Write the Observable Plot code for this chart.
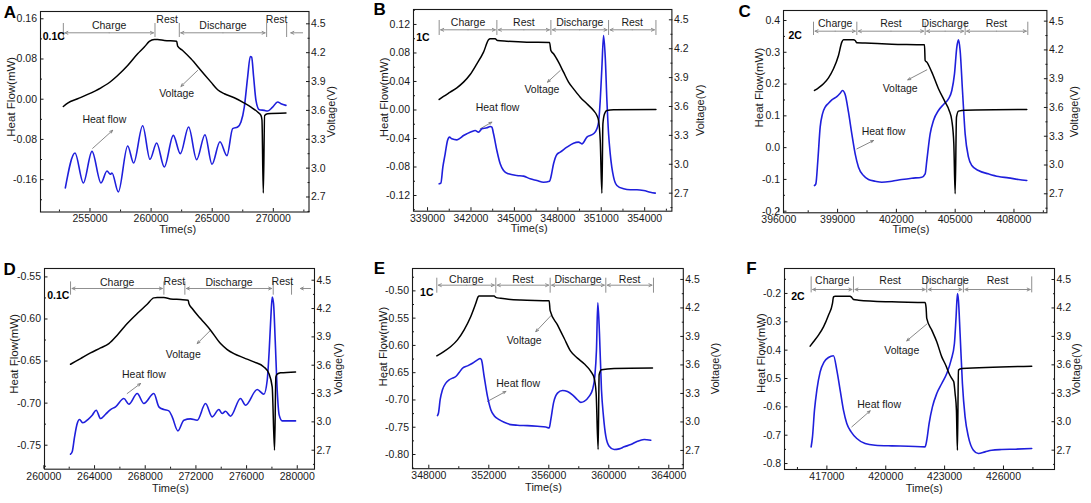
<!DOCTYPE html>
<html><head><meta charset="utf-8">
<script src="https://cdn.jsdelivr.net/npm/d3@7"></script>
<script src="https://cdn.jsdelivr.net/npm/@observablehq/plot@0.6"></script>
<style>
body{margin:0;background:#fff;}
#fig{position:relative;width:1091px;height:503px;overflow:hidden;background:#fff;}
.panel{position:absolute;}
.panel svg{position:absolute;left:0;top:0;overflow:visible;}
</style></head><body><div id="fig"></div>
<script>
// ---------------- DATA ----------------
const phaseNames = ["Charge", "Rest", "Discharge", "Rest"];
const annLabels = ["Voltage", "Heat flow"];
const voltTicks = [2.7, 3.0, 3.3, 3.6, 3.9, 4.2, 4.5];

// Panel A (0.1C)
const xTicksA = [255000, 260000, 265000, 270000];
const hTicksA = [-0.16, -0.08, 0.00, 0.08, 0.16];
const phaseA = [252818, 260318, 262308, 269453, 271090];
const tailA = [272398, 271308];
const tA_v = [252818,253173,253991,254809,255900,256445,257263,258082,258900,259445,259854,260263,260536,261081,262090,262172,262581,263263,264081,264900,265445,265990,266808,267627,268172,268717,268990,269072,269180,269290,269535,271035];
const vA = [3.641,3.676,3.721,3.766,3.835,3.877,3.963,4.067,4.188,4.258,4.317,4.337,4.337,4.327,4.320,4.268,4.223,4.136,4.015,3.894,3.815,3.773,3.731,3.676,3.634,3.583,3.548,3.50,2.741,3.548,3.565,3.572];
const tA_h = [252982,253773,254455,255164,255900,256391,256663,256800,257318,258082,258572,259309,259909,260454,261081,261818,262390,263072,263726,264408,264981,265635,266208,266672,267081,267354,267626,267899,268117,268226,268390,268580,268853,269262,269535,269944,270353,270626,271035];
const hA = [-0.1766,-0.1070,-0.1666,-0.1037,-0.1666,-0.1428,-0.1494,-0.1467,-0.1845,-0.0931,-0.1269,-0.0527,-0.1196,-0.0871,-0.1348,-0.0719,-0.1083,-0.0553,-0.1202,-0.0706,-0.1295,-0.0845,-0.1123,-0.0586,-0.0553,-0.0454,-0.0156,0.0441,0.0851,0.0838,0.0441,-0.0023,-0.0209,-0.0222,-0.0235,-0.0156,-0.0056,-0.0089,-0.0123];
const annA = [[262090,0.0109,263808,0.0573,262445,0.0255],[256173,-0.0407,255218,-0.0977,256854,-0.0619]];

// Panel B (1C)
const xTicksB = [339000, 342000, 345000, 348000, 351000, 354000];
const hTicksB = [-0.12, -0.08, -0.04, 0.00, 0.04, 0.08, 0.12];
const phaseB = [339804, 343789, 347521, 351506, 354777];
const tB_v = [339804,340103,340564,341025,341485,341946,342407,342868,343213,343328,343674,343835,344480,345862,347429,347521,347705,348051,348396,348742,349087,349548,350009,350470,350700,350815,350930,351045,351114,351230,351391,351852,354778];
const vB = [3.673,3.704,3.749,3.794,3.853,3.932,4.043,4.164,4.292,4.303,4.303,4.285,4.278,4.268,4.265,4.181,4.147,4.060,3.956,3.853,3.783,3.697,3.628,3.558,3.506,3.454,3.247,2.700,3.420,3.524,3.558,3.565,3.568];
const tB_h = [339804,339919,340057,340218,340380,340518,340679,341025,341255,341485,341716,342061,342292,342522,342752,343098,343328,343443,343559,343789,344019,344250,344595,345171,345632,346093,346553,347014,347429,347521,347705,347935,348166,348627,349087,349433,349663,350009,350469,350700,350815,350930,351045,351161,351276,351391,351506,351621,351852,352082,352543,353003,353464,353925,354386,354731];
const hB = [-0.1036,-0.1027,-0.0802,-0.0615,-0.0428,-0.0381,-0.0405,-0.0419,-0.0395,-0.0358,-0.0334,-0.0302,-0.0288,-0.0311,-0.0264,-0.0250,-0.0231,-0.0241,-0.0334,-0.0568,-0.0755,-0.0849,-0.0896,-0.0919,-0.0928,-0.0966,-0.0989,-0.1013,-0.0999,-0.0943,-0.0755,-0.0624,-0.0592,-0.0522,-0.0465,-0.0451,-0.0475,-0.0381,-0.0334,-0.0264,-0.0171,0.0133,0.0601,0.1046,0.0742,0.0133,-0.0334,-0.0615,-0.0943,-0.1059,-0.1106,-0.1120,-0.1120,-0.1130,-0.1153,-0.1167];
const annB = [[346899,0.0283,348166,0.0554,347290,0.0391],[343835,0.0031,342637,-0.0264,343443,-0.0171]];

// Panel C (2C)
const xTicksC = [396000, 399000, 402000, 405000, 408000];
const hTicksC = [-0.2, -0.1, 0.0, 0.1, 0.2, 0.3, 0.4];
const phaseC = [397771, 399982, 403468, 405509, 408706];
const tC_v = [397822,398026,398281,398536,398791,399046,399216,399301,399811,399897,399982,400407,401767,403434,403468,403553,403808,404148,404488,404692,404829,404931,404999,405067,405169,405509,408655];
const vC = [3.777,3.805,3.847,3.909,4.003,4.142,4.281,4.305,4.305,4.298,4.274,4.271,4.260,4.253,4.090,4.073,3.968,3.795,3.656,3.569,3.464,3.221,2.700,3.499,3.562,3.572,3.579];
const tC_h = [397822,397890,397992,398111,398230,398366,398536,398706,398961,399131,399250,399386,399556,399726,399897,400067,400322,400577,400917,401257,401767,402277,402788,403298,403468,403553,403723,403893,404148,404403,404658,404829,404965,405084,405169,405253,405373,405509,405679,405849,406189,406699,407210,407720,408230,408655];
const hC = [-0.1193,-0.1140,-0.0406,0.0643,0.1063,0.1273,0.1398,0.1503,0.1608,0.1713,0.1797,0.1671,0.1115,0.0433,-0.0196,-0.0616,-0.0878,-0.1004,-0.1056,-0.1088,-0.1056,-0.1004,-0.0962,-0.0930,-0.0825,-0.0406,0.0433,0.0853,0.1168,0.1357,0.1535,0.1797,0.2322,0.3161,0.3392,0.3056,0.1797,0.0433,-0.0301,-0.0563,-0.0721,-0.0825,-0.0909,-0.0951,-0.1004,-0.1035];
const annC = [[402192,0.185,403553,0.2447,402584,0.2133],[401342,0.0517,399982,-0.0039,400832,0.0224]];

// Panel D (0.1C)
const xTicksD = [260000, 264000, 268000, 272000, 276000, 280000];
const hTicksD = [-0.75, -0.70, -0.65, -0.60, -0.55];
const phaseD = [262105, 269472, 271129, 278101, 279548];
const tailD = [281048, 280127];
const tD_v = [262105,262894,263683,264473,265130,265788,266578,267367,268156,268682,268945,269472,269998,270787,271392,271445,271708,272366,273155,273944,274471,274997,275786,276575,277365,277759,278022,278207,278312,278417,278680,279864];
const vD = [3.610,3.670,3.730,3.783,3.829,3.918,4.041,4.147,4.246,4.313,4.316,4.316,4.302,4.295,4.288,4.253,4.200,4.094,3.971,3.829,3.766,3.723,3.678,3.635,3.582,3.512,3.370,2.700,3.476,3.505,3.519,3.529];
const tD_h = [262105,262236,262421,262631,262815,263078,263473,263815,264131,264473,264867,265262,265657,266314,266709,267367,267893,268682,269077,269472,269866,270129,270577,271050,271576,272103,272760,273287,273813,274076,274339,274734,275523,275918,276838,277365,277628,277786,277917,278022,278128,278259,278417,278575,278812,279864];
const hD = [-0.7607,-0.7579,-0.7401,-0.7242,-0.7195,-0.7234,-0.7195,-0.7143,-0.7084,-0.7183,-0.7132,-0.7076,-0.7044,-0.6945,-0.7013,-0.6886,-0.7005,-0.6886,-0.7044,-0.7076,-0.7092,-0.7163,-0.7330,-0.7203,-0.7187,-0.7203,-0.7005,-0.7163,-0.7076,-0.7124,-0.7096,-0.7155,-0.6945,-0.7025,-0.6838,-0.6894,-0.6728,-0.6371,-0.5975,-0.5738,-0.5817,-0.6252,-0.6846,-0.7143,-0.7211,-0.7211];
const annD = [[270998,-0.6419,273155,-0.6134,272103,-0.6292],[267893,-0.6656,266578,-0.6886,267630,-0.6767]];

// Panel E (1C)
const xTicksE = [348000, 352000, 356000, 360000, 364000];
const hTicksE = [-0.80, -0.75, -0.70, -0.65, -0.60, -0.55, -0.50];
const phaseE = [348533, 352467, 356090, 359801, 362979];
const tE_v = [348533,349023,349467,349912,350356,350800,351134,351289,351356,352356,352467,352800,354134,356023,356090,356579,357023,357467,357912,358357,358801,359023,359156,359290,359356,359512,360357,362913];
const vE = [3.696,3.742,3.794,3.864,3.969,4.109,4.248,4.318,4.325,4.325,4.311,4.301,4.283,4.276,4.171,4.021,3.881,3.742,3.672,3.612,3.532,3.462,3.305,2.711,3.497,3.549,3.563,3.567];
const tE_h = [348578,348645,348756,348911,349134,349356,349578,349801,350022,350244,350578,350911,351245,351423,351512,351690,351912,352134,352356,352689,353023,353467,353912,354578,355245,355801,356023,356134,356312,356579,356912,357245,357579,357912,358134,358357,358689,358912,359067,359178,359267,359378,359512,359645,359801,360023,360357,360690,361024,361467,361912,362357,362801];
const hE = [-0.7288,-0.7239,-0.6996,-0.6813,-0.6692,-0.6631,-0.6600,-0.6570,-0.6497,-0.6418,-0.6375,-0.6327,-0.6266,-0.6241,-0.6266,-0.6570,-0.6935,-0.7178,-0.7288,-0.7361,-0.7410,-0.7452,-0.7464,-0.7471,-0.7483,-0.7495,-0.7513,-0.7361,-0.7057,-0.6874,-0.6826,-0.6844,-0.6905,-0.6996,-0.7045,-0.7026,-0.6935,-0.6813,-0.6570,-0.6083,-0.5219,-0.5779,-0.6813,-0.7300,-0.7665,-0.7848,-0.7909,-0.7897,-0.7860,-0.7817,-0.7757,-0.7726,-0.7738];
const annE = [[354357,-0.5913,356179,-0.5444,355134,-0.5748],[353956,-0.6692,351912,-0.7026,353134,-0.6844]];

// Panel F (2C)
const xTicksF = [417000, 420000, 423000, 426000];
const hTicksF = [-0.8, -0.7, -0.6, -0.5, -0.4, -0.3, -0.2];
const phaseF = [416198, 418355, 422090, 423958, 427439];
const tF_v = [416147,416317,416572,416827,417081,417285,417336,417421,418185,418270,418355,418610,420308,422006,422057,422090,422345,422600,422855,423058,423228,423364,423466,423534,423602,423653,423704,423873,427439];
const vF = [3.797,3.843,3.913,4.001,4.124,4.247,4.317,4.324,4.324,4.310,4.289,4.282,4.264,4.257,4.200,4.089,3.966,3.843,3.684,3.596,3.508,3.456,3.421,3.298,3.122,2.700,3.544,3.561,3.586];
const tF_h = [416198,416266,416368,416487,416657,416861,417081,417336,417506,417676,417845,418015,418236,418525,418949,419459,420308,421157,422006,422090,422209,422379,422600,422855,423109,423330,423500,423585,423653,423704,423788,423907,424043,424213,424468,424722,425062,425402,425911,426590,427439];
const hF = [-0.7412,-0.7059,-0.6118,-0.5412,-0.4765,-0.4412,-0.4259,-0.4200,-0.4706,-0.5412,-0.6118,-0.6588,-0.6882,-0.7118,-0.7294,-0.7353,-0.7377,-0.7388,-0.7412,-0.7177,-0.6588,-0.6000,-0.5530,-0.5177,-0.4824,-0.4353,-0.3765,-0.2824,-0.2000,-0.2235,-0.3412,-0.5177,-0.6353,-0.7059,-0.7530,-0.7647,-0.7588,-0.7530,-0.7506,-0.7494,-0.7471];
const annF = [[420817,-0.400,422090,-0.3082,421072,-0.3671],[419662,-0.5906,418270,-0.6706,419204,-0.6141]];

// ---------------- LAYOUT / STYLE ----------------
const FONT = "'Liberation Sans', Arial, Helvetica, sans-serif";
const INK = "#1a1a1a", BLUE = "#1f1fdc", GRAY = "#8f8f8f";

const panels = [
  {letter:"A", rate:"0.1C", frame:[39.5,308,11,211.5], xDomain:[250950,272920], heatDomain:[-0.2244,0.1745], voltDomain:[2.544,4.628],
   xTicks:xTicksA, hTicks:hTicksA, hFmt:2, tV:tA_v, vV:vA, tH:tA_h, hH:hA, phases:phaseA, tail:tailA, arrowSegs:[0,2], ann:annA,
   pos:{hfDx:29.5, hfDy:-15, vDx:22, timeDx:3, timeDy:17, letter:[-30.5,1.5], rate:[2.2,24.7], text:14, rest:8, arrow:21.3, bar:[12,26]}},
  {letter:"B", rate:"1C", frame:[413.3,671.7,9,210.7], xDomain:[338030,355880], heatDomain:[-0.142,0.141], voltDomain:[2.513,4.607],
   xTicks:xTicksB, hTicks:hTicksB, hFmt:2, tV:tB_v, vV:vB, tH:tB_h, hH:hB, phases:phaseB, tail:null, arrowSegs:[0,1,2,3], ann:annB,
   pos:{hfDx:29.3, hfDy:-13, vDx:29, timeDx:-13.5, timeDy:17.6, letter:[-34,0.5], rate:[2.7,27.7], text:13.3, rest:13.3, arrow:20.3, bar:[11,26]}},
  {letter:"C", rate:"2C", frame:[783.3,1046.7,10,212.3], xDomain:[396240,409680], heatDomain:[-0.205,0.4315], voltDomain:[2.502,4.611],
   xTicks:xTicksC, hTicks:hTicksC, hFmt:1, tV:tC_v, vV:vC, tH:tC_h, hH:hC, phases:phaseC, tail:null, arrowSegs:[0,1,2,3], ann:annC,
   pos:{hfDx:24.3, hfDy:-24, vDx:27.3, timeDx:-4.3, timeDy:17, letter:[-39,1], rate:[5,25], text:13.3, rest:13.3, arrow:20.7, bar:[11.7,25]}},
  {letter:"D", rate:"0.1C", frame:[44,314,268.3,469], xDomain:[260050,281360], heatDomain:[-0.7785,-0.540], voltDomain:[2.499,4.624],
   xTicks:xTicksD, hTicks:hTicksD, hFmt:2, tV:tD_v, vV:vD, tH:tD_h, hH:hD, phases:phaseD, tail:tailD, arrowSegs:[0,2], ann:annD,
   pos:{hfDx:30, hfDy:-15, vDx:23.5, timeDx:-9, timeDy:19, letter:[-35,1], rate:[2.7,26.7], text:14, rest:12.7, arrow:20, bar:[13.4,26.7]}},
  {letter:"E", rate:"1C", frame:[411.7,682.5,268.3,468.5], xDomain:[346913,364967], heatDomain:[-0.826,-0.459], voltDomain:[2.508,4.615],
   xTicks:xTicksE, hTicks:hTicksE, hFmt:2, tV:tE_v, vV:vE, tH:tE_h, hH:hE, phases:phaseE, tail:null, arrowSegs:[0,1,2,3], ann:annE,
   pos:{hfDx:29.4, hfDy:-22, vDx:32, timeDx:-4.4, timeDy:19, letter:[-33,0], rate:[7.6,24.4], text:11, rest:11, arrow:16.7, bar:[9.7,24.7]}},
  {letter:"F", rate:"2C", frame:[784.3,1054.3,268.3,469.3], xDomain:[414840,428600], heatDomain:[-0.821,-0.112], voltDomain:[2.496,4.616],
   xTicks:xTicksF, hTicks:hTicksF, hFmt:1, tV:tF_v, vV:vF, tH:tF_h, hH:hF, phases:phaseF, tail:null, arrowSegs:[0,1,2,3], ann:annF,
   pos:{hfDx:23.6, hfDy:-16, vDx:21.7, timeDx:4.7, timeDy:18.5, letter:[-33,0], rate:[6.7,28.4], text:12.4, rest:12.4, arrow:21, bar:[8.4,24.4]}}
];

function minorOf(ticks, domain) {
  const step = ticks[1] - ticks[0];
  const lo = Math.min(...domain), hi = Math.max(...domain);
  const cand = [ticks[0] - step / 2, ...ticks.map(t => t + step / 2)];
  return cand.filter(t => t >= lo && t <= hi);
}
const idx = a => a.map((_, i) => i);
const fig = document.getElementById("fig");

function build(c) {
  const [L, R, T, B] = c.frame;
  const ml = 48, mr = 44, mt = 20, mb = 32;
  const fw = R - L, fh = B - T, W = fw + ml + mr, H = fh + mt + mb;
  const p = c.pos;
  const holder = document.createElement("div");
  holder.className = "panel";
  Object.assign(holder.style, {left: (L - ml) + "px", top: (T - mt) + "px", width: W + "px", height: H + "px"});
  const [h0, h1] = c.heatDomain;
  const yAt = px => h1 - (h1 - h0) * px / fh;
  const common = {width: W, height: H, marginLeft: ml, marginRight: mr, marginTop: mt, marginBottom: mb,
    style: {background: "transparent", fontFamily: FONT, fontSize: "10.5px", color: INK, overflow: "visible"}};

  // phase annotation marks
  const b = c.phases;
  const mids = phaseNames.map((_, i) => (b[i] + b[i + 1]) / 2);
  const ya = yAt(p.arrow);
  const segs = [];
  c.arrowSegs.forEach(i => { segs.push([mids[i], b[i]]); segs.push([mids[i], b[i + 1]]); });
  if (c.tail) segs.push(c.tail);
  const phaseMarks = [
    Plot.ruleX(b, {x: d => d, insetTop: p.bar[0], insetBottom: fh - p.bar[1], stroke: GRAY, strokeWidth: 1}),
    Plot.arrow(segs, {x1: d => d[0], x2: d => d[1], y1: () => ya, y2: () => ya, stroke: GRAY, strokeWidth: 1,
      headLength: 5, headAngle: 50, insetEnd: 1.5}),
    ...phaseNames.map((n, i) => Plot.text([n], {x: [mids[i]], text: d => d, frameAnchor: "top", lineAnchor: "middle",
      textAnchor: "middle", dy: (i % 2 ? p.rest : p.text), fontSize: 10.5, fill: INK}))
  ];

  const annMarks = [
    Plot.arrow(c.ann, {x1: d => d[2], y1: d => d[3], x2: d => d[4], y2: d => d[5], stroke: "#7a7a7a",
      strokeWidth: 0.9, headLength: 5, headAngle: 45}),
    Plot.text(c.ann, {x: d => d[0], y: d => d[1], text: (d, i) => annLabels[i], fontSize: 10.5, fill: INK})
  ];

  const heatPlot = Plot.plot({
    ...common,
    x: {domain: c.xDomain},
    y: {domain: c.heatDomain},
    marks: [
      Plot.axisX({ticks: c.xTicks, tickSize: -3.5, tickPadding: 6.5, tickFormat: d => String(d), label: null, stroke: INK, fontSize: 10.5}),
      Plot.axisX({ticks: minorOf(c.xTicks, c.xDomain), tickSize: -2, tickFormat: () => "", label: null, stroke: INK}),
      Plot.axisY({anchor: "left", ticks: c.hTicks, tickSize: -3.5, tickPadding: 7, tickFormat: d => d.toFixed(c.hFmt), label: null, stroke: INK, fontSize: 10.5}),
      Plot.axisY({anchor: "left", ticks: minorOf(c.hTicks, c.heatDomain), tickSize: -2, tickFormat: () => "", label: null, stroke: INK}),
      ...phaseMarks,
      ...annMarks,
      Plot.line(idx(c.tH), {x: c.tH, y: c.hH, stroke: BLUE, strokeWidth: 1.6, curve: "monotone-x"}),
      Plot.frame({stroke: INK, strokeWidth: 1.1}),
      Plot.text(["Heat Flow(mW)"], {frameAnchor: "left", textAnchor: "middle", lineAnchor: "middle", dx: -p.hfDx, dy: p.hfDy, rotate: -90, fontSize: 11.5, fill: INK}),
      Plot.text(["Time(s)"], {frameAnchor: "bottom", textAnchor: "middle", lineAnchor: "middle", dx: p.timeDx, dy: p.timeDy, fontSize: 11, fill: INK}),
      Plot.text([c.letter], {frameAnchor: "top-left", textAnchor: "middle", lineAnchor: "middle", dx: p.letter[0], dy: p.letter[1], fontSize: 17, fontWeight: "bold", fill: "#000"}),
      Plot.text([c.rate], {frameAnchor: "top-left", textAnchor: "start", lineAnchor: "middle", dx: p.rate[0], dy: p.rate[1], fontSize: 10.5, fontWeight: "bold", fill: "#000"})
    ]
  });

  const voltPlot = Plot.plot({
    ...common,
    x: {domain: c.xDomain, axis: null},
    y: {domain: c.voltDomain},
    marks: [
      Plot.axisY({anchor: "right", ticks: voltTicks, tickSize: -3.5, tickPadding: 5.5, tickFormat: d => d.toFixed(1), label: null, stroke: INK, fontSize: 10.5}),
      Plot.axisY({anchor: "right", ticks: minorOf(voltTicks, c.voltDomain), tickSize: -2, tickFormat: () => "", label: null, stroke: INK}),
      Plot.line(idx(c.tV), {x: c.tV, y: c.vV, stroke: "#000", strokeWidth: 1.5, curve: "monotone-x"}),
      Plot.text(["Voltage(V)"], {frameAnchor: "right", textAnchor: "middle", lineAnchor: "middle", dx: p.vDx, rotate: -90, fontSize: 11, fill: INK})
    ]
  });

  holder.append(heatPlot, voltPlot);
  fig.append(holder);
}
panels.forEach(build);
</script></body></html>
